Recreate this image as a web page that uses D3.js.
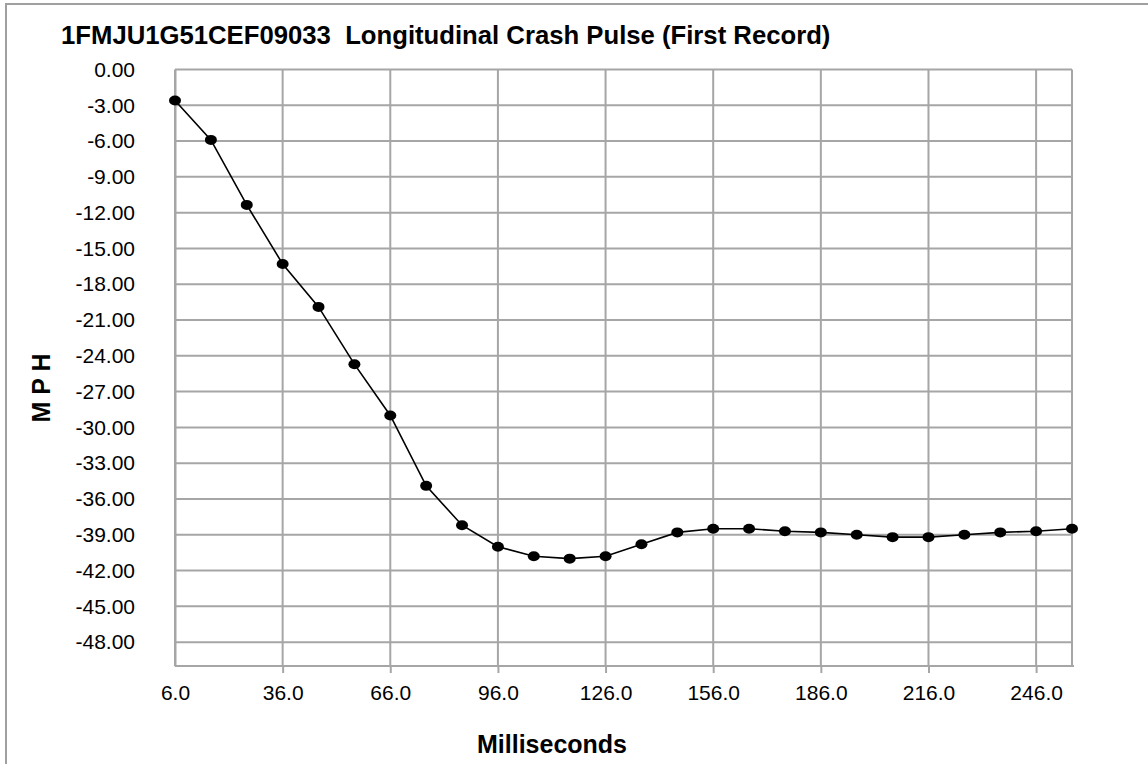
<!DOCTYPE html>
<html>
<head>
<meta charset="utf-8">
<script src="https://cdn.jsdelivr.net/npm/d3@7"></script>
<style>
  body { margin: 0; background: #fff; }
  text { font-family: "Liberation Sans", Arial, sans-serif; }
</style>
</head>
<body>
<svg id="chart"></svg>
<script>
// Data
const times = [6, 16, 26, 36, 46, 56, 66, 76, 86, 96, 106, 116, 126,
    136, 146, 156, 166, 176, 186, 196, 206, 216, 226, 236, 246, 256];
const mph = [-2.6, -5.9, -11.35, -16.3, -19.9, -24.7, -29.0, -34.9, -38.2, -40.0, -40.8, -41.0, -40.8,
    -39.8, -38.8, -38.5, -38.5, -38.7, -38.8, -39.0, -39.2, -39.2, -39.0, -38.8, -38.7, -38.5];
const xTicks = [6, 36, 66, 96, 126, 156, 186, 216, 246];
const yTicks = d3.range(0, -49, -3);

const width = 1148;
const height = 764;
const grid = "#a6a6a6";

const svg = d3.select("#chart").attr("width", width).attr("height", height);

// chart area border (only top/left visible)
svg.append("rect")
    .attr("x", 6).attr("y", 4)
    .attr("width", 1160).attr("height", 800)
    .attr("fill", "none")
    .attr("stroke", "#a0a0a0")
    .attr("stroke-width", 2);

const x = d3.scaleLinear().domain([6, 256]).range([175, 1072]);
const y = d3.scaleLinear().domain([-50, 0]).range([666, 69.5]);

// horizontal gridlines
svg.append("g")
    .selectAll("line")
    .data(yTicks)
    .join("line")
    .attr("x1", x(6)).attr("x2", x(256))
    .attr("y1", (d) => y(d)).attr("y2", (d) => y(d))
    .attr("stroke", grid).attr("stroke-width", 2);

// vertical gridlines
svg.append("g")
    .selectAll("line")
    .data(xTicks.concat([256]))
    .join("line")
    .attr("x1", (d) => x(d)).attr("x2", (d) => x(d))
    .attr("y1", y(0)).attr("y2", y(-50))
    .attr("stroke", grid).attr("stroke-width", 2);

// x axis
const xAxis = svg.append("g")
    .attr("transform", `translate(0,${y(-50)})`)
    .call(d3.axisBottom(x).tickValues(xTicks).tickSize(7).tickSizeOuter(0)
        .tickPadding(12).tickFormat((d) => d.toFixed(1)));
xAxis.select(".domain").attr("stroke", grid).attr("stroke-width", 2)
    .attr("d", `M${x(6)},0H${x(256) + 2}`);
xAxis.selectAll(".tick line").attr("stroke", grid).attr("stroke-width", 2);
xAxis.selectAll(".tick").filter((d) => d === 6).select("line").remove();
xAxis.selectAll(".tick text")
    .attr("fill", "#000")
    .style("font-size", "21px");

// y axis labels
const yAxis = svg.append("g")
    .attr("transform", `translate(${x(6)},0)`)
    .call(d3.axisLeft(y).tickValues(yTicks).tickSize(0).tickPadding(40)
        .tickFormat((d) => d.toFixed(2)));
yAxis.select(".domain").attr("stroke", grid).attr("stroke-width", 2);
yAxis.selectAll(".tick text")
    .attr("fill", "#000")
    .style("font-size", "21px");

// series line
const line = d3.line()
    .x((d, i) => x(times[i]))
    .y((d) => y(d));

svg.append("path")
    .datum(mph)
    .attr("d", line)
    .attr("fill", "none")
    .attr("stroke", "#000")
    .attr("stroke-width", 1.6);

svg.append("g")
    .selectAll("ellipse")
    .data(mph)
    .join("ellipse")
    .attr("cx", (d, i) => x(times[i]))
    .attr("cy", (d) => y(d))
    .attr("rx", 6)
    .attr("ry", 5)
    .attr("fill", "#000");

// titles
svg.append("text")
    .attr("x", 61).attr("y", 44)
    .style("font-size", "25.7px")
    .style("font-weight", "bold")
    .attr("xml:space", "preserve")
    .text("1FMJU1G51CEF09033  Longitudinal Crash Pulse (First Record)");

svg.append("text")
    .attr("x", 552).attr("y", 753)
    .attr("text-anchor", "middle")
    .style("font-size", "25px")
    .style("font-weight", "bold")
    .text("Milliseconds");

svg.append("text")
    .attr("transform", "translate(50,388) rotate(-90)")
    .attr("text-anchor", "middle")
    .style("font-size", "25px")
    .style("font-weight", "bold")
    .text("M P H");
</script>
</body>
</html>
